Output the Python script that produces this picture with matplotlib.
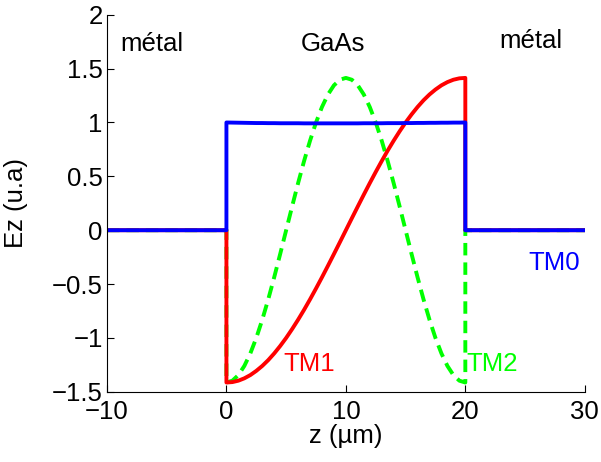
import numpy as np
import matplotlib
matplotlib.use('Agg')
import matplotlib.pyplot as plt

plt.rcParams['font.family'] = ['Liberation Sans', 'DejaVu Sans']

# sample positions inside the GaAs layer (um)
z_in = np.arange(0, 20.5, 0.5)
z_left = [-10, 0]
z_right = [20, 30]

# TM0 : nearly flat inside, zero in the metal
tm0_in = [1.000, 0.999, 0.998, 0.997, 0.996, 0.995, 0.995, 0.994, 0.994, 0.993,
          0.993, 0.993, 0.993, 0.992, 0.992, 0.992, 0.992, 0.992, 0.992, 0.992,
          0.992, 0.992, 0.992, 0.993, 0.993, 0.993, 0.993, 0.994, 0.994, 0.994,
          0.995, 0.995, 0.996, 0.996, 0.997, 0.997, 0.998, 0.998, 0.999, 0.999, 1.000]
tm1_in = [-1.414, -1.410, -1.397, -1.375, -1.345, -1.306, -1.260, -1.206, -1.144, -1.075,
          -1.000, -0.918, -0.831, -0.739, -0.642, -0.541, -0.437, -0.330, -0.221, -0.111,
          0.000, 0.111, 0.221, 0.330, 0.437, 0.541, 0.642, 0.739, 0.831, 0.918,
          1.000, 1.075, 1.144, 1.206, 1.260, 1.306, 1.345, 1.375, 1.397, 1.410, 1.414]
tm2_in = [-1.414, -1.397, -1.345, -1.260, -1.144, -1.000, -0.831, -0.642, -0.437, -0.221,
          0.000, 0.221, 0.437, 0.642, 0.831, 1.000, 1.144, 1.260, 1.345, 1.397,
          1.414, 1.397, 1.345, 1.260, 1.144, 1.000, 0.831, 0.642, 0.437, 0.221,
          0.000, -0.221, -0.437, -0.642, -0.831, -1.000, -1.144, -1.260, -1.345, -1.397, -1.414]
outside = [0, 0]


def full(vals):
    z = np.concatenate([z_left, z_in, z_right])
    v = np.concatenate([outside, vals, outside])
    return z, v


fig = plt.figure(figsize=(6.01, 4.62), dpi=100)
ax = fig.add_axes([0.178, 0.152, 0.795, 0.816])

z2, v2 = full(tm2_in)
ax.plot(z2, v2, color='#00ff00', lw=2.8, dashes=(3.2, 1.8))
z1, v1 = full(tm1_in)
ax.plot(z1, v1, color='red', lw=2.8)
z0, v0 = full(tm0_in)
ax.plot(z0, v0, color='blue', lw=2.8)

ax.set_xlim(-10, 30)
ax.set_ylim(-1.5, 2)
ax.set_xticks([-10, 0, 10, 20, 30])
ax.set_yticks([-1.5, -1, -0.5, 0, 0.5, 1, 1.5, 2])
ax.set_yticklabels(['\u22121.5', '\u22121', '\u22120.5', '0', '0.5', '1', '1.5', '2'])
ax.set_xticklabels(['\u221210', '0', '10', '20', '30'])
ax.spines['top'].set_visible(False)
ax.spines['right'].set_visible(False)
ax.tick_params(direction='in', length=5, labelsize=18.5, pad=3)
ax.tick_params(axis='x', pad=6)

ax.set_xlabel('z (\u00b5m)', fontsize=18.5, labelpad=0)
ax.set_ylabel('Ez (u.a)', fontsize=18.5)
ax.yaxis.set_label_coords(-0.165, 0.5)

ax.text(-8.9, 1.73, 'métal', fontsize=18.5, va='center', ha='left')
ax.text(8.9, 1.73, 'GaAs', fontsize=18.5, va='center', ha='center')
ax.text(25.5, 1.76, 'métal', fontsize=18.5, va='center', ha='center')
ax.text(25.3, -0.3, 'TM0', fontsize=18.5, color='blue', va='center', ha='left')
ax.text(4.8, -1.24, 'TM1', fontsize=18.5, color='red', va='center', ha='left')
ax.text(20.1, -1.24, 'TM2', fontsize=18.5, color='#00ff00', va='center', ha='left')

fig.savefig('out.png', dpi=100)
